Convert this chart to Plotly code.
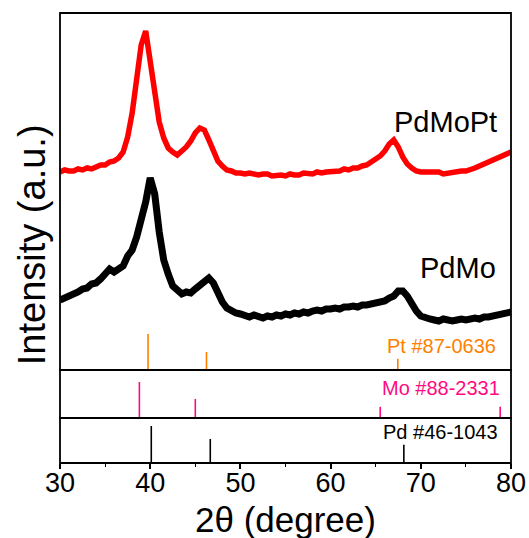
import plotly.graph_objects as go

# 2-theta grid of the measured patterns (degrees)
two_theta = [30 + 0.5 * i for i in range(101)]

# PdMoPt diffraction pattern (a.u.)
pdmopt = [
    198, 200, 199, 199, 201, 200, 202, 201, 203, 205,
    205, 208, 209, 212, 218, 233, 257, 288, 325, 339,
    310, 275, 248, 232, 222, 218, 215, 219, 223, 229,
    237, 242, 240, 230, 218, 209, 204, 200, 199, 197,
    197, 196, 197, 196, 195, 196, 196, 194, 195, 195,
    194, 196, 195, 195, 197, 196, 196, 198, 197, 198,
    198, 199, 199, 201, 200, 202, 202, 204, 205, 208,
    211, 214, 219, 226, 230, 223, 213, 206, 202, 199,
    198, 198, 197, 197, 198, 196, 197, 198, 198, 199,
    199, 200, 202, 204, 206, 207, 209, 211, 213, 215,
    218,
]

# PdMo diffraction pattern (a.u.)
pdmo = [
    70, 72, 74, 75, 78, 81, 82, 86, 87, 91,
    96, 101, 98, 101, 104, 114, 120, 133, 148, 168,
    192, 176, 138, 110, 96, 84, 80, 76, 78, 77,
    81, 84, 87, 92, 87, 77, 68, 62, 59, 57,
    56, 55, 53, 55, 53, 52, 54, 53, 55, 54,
    56, 55, 57, 56, 58, 57, 59, 60, 59, 61,
    61, 62, 61, 63, 63, 64, 63, 65, 65, 66,
    67, 69, 69, 72, 74, 79, 79, 74, 66, 59,
    54, 52, 51, 50, 49, 51, 50, 49, 50, 51,
    50, 51, 52, 51, 53, 53, 54, 56, 56, 57,
    58,
]

# Reference cards: peak positions (degrees) and relative intensities (%)
pt_pos = [39.76, 46.24, 67.45]
pt_int = [100, 50, 31]
mo_pos = [38.8, 45.0, 65.5, 78.8]
mo_int = [100, 53, 31, 31]
pd_pos = [40.12, 46.66, 68.12]
pd_int = [100, 65, 49]

x_ticks = [30, 40, 50, 60, 70, 80]

FONT = "Liberation Sans, Arial, sans-serif"
ORANGE = "#FF7F00"
PINK = "#FF0A80"


def sticks(pos, inten):
    xs, ys = [], []
    for p, h in zip(pos, inten):
        xs += [p, p, None]
        ys += [0, h, None]
    return xs, ys


fig = go.Figure()

fig.add_trace(go.Scatter(x=two_theta, y=pdmopt, mode="lines",
                         line=dict(color="#FF0000", width=5.5),
                         yaxis="y", showlegend=False))
fig.add_trace(go.Scatter(x=two_theta, y=pdmo, mode="lines",
                         line=dict(color="#000000", width=7),
                         yaxis="y", showlegend=False))

sx, sy = sticks(pt_pos, pt_int)
fig.add_trace(go.Scatter(x=sx, y=sy, mode="lines",
                         line=dict(color=ORANGE, width=1.6),
                         yaxis="y4", showlegend=False))
sx, sy = sticks(mo_pos, mo_int)
fig.add_trace(go.Scatter(x=sx, y=sy, mode="lines",
                         line=dict(color=PINK, width=1.6),
                         yaxis="y2", showlegend=False))
sx, sy = sticks(pd_pos, pd_int)
fig.add_trace(go.Scatter(x=sx, y=sy, mode="lines",
                         line=dict(color="#000000", width=1.6),
                         yaxis="y3", showlegend=False))

# panel domains (fractions of the plotting area height)
d_pd = [0.0, 0.10]
d_mo = [0.10, 0.2067]
d_main = [0.2067, 1.0]

hidden = dict(showticklabels=False, showgrid=False, zeroline=False,
              ticks="", showline=False, fixedrange=True, automargin=False)

fig.update_layout(
    width=529, height=538,
    margin=dict(l=60, r=18, t=13, b=75),
    paper_bgcolor="white", plot_bgcolor="white",
    font=dict(family=FONT, color="black"),
    xaxis=dict(range=[30, 80], anchor="y3", tickvals=x_ticks,
               ticktext=[str(v) for v in x_ticks],
               ticks="outside", ticklen=5, tickwidth=1.5, tickcolor="black",
               minor=dict(dtick=5, tick0=30, ticks="outside", ticklen=3,
                          tickwidth=1.2, tickcolor="black"),
               tickfont=dict(size=27, family=FONT, color="black"),
               ticklabelstandoff=-9, automargin=False,
               showgrid=False, zeroline=False, showline=False),
    yaxis=dict(domain=d_main, range=[0, 357], anchor="x", **hidden),
    yaxis4=dict(domain=d_main, range=[0, 991.7], overlaying="y",
                anchor="x", **hidden),
    yaxis2=dict(domain=d_mo, range=[0, 133.3], anchor="x", **hidden),
    yaxis3=dict(domain=d_pd, range=[0, 121.6], anchor="x", **hidden),
)

# panel frames
for d in (d_main, d_mo, d_pd):
    fig.add_shape(type="rect", xref="paper", yref="paper",
                  x0=0, x1=1, y0=d[0], y1=d[1],
                  line=dict(color="black", width=1.8), layer="above")

ann = [
    dict(text="PdMoPt", x=78.7, y=0.695, xref="x", yref="y domain",
         xanchor="right", yanchor="middle", font=dict(size=29, color="black")),
    dict(text="PdMo", x=78.6, y=0.287, xref="x", yref="y domain",
         xanchor="right", yanchor="middle", font=dict(size=29, color="black")),
    dict(text="Pt #87-0636", x=78.6, y=0.068, xref="x", yref="y domain",
         xanchor="right", yanchor="middle", font=dict(size=20, color=ORANGE)),
    dict(text="Mo #88-2331", x=79.0, y=0.62, xref="x", yref="y2 domain",
         xanchor="right", yanchor="middle", font=dict(size=20, color=PINK)),
    dict(text="Pd #46-1043", x=78.8, y=0.70, xref="x", yref="y3 domain",
         xanchor="right", yanchor="middle", font=dict(size=20, color="black")),
    # axis titles, offset in pixels from the plotting area
    dict(text="2θ (degree)", x=0.5, y=0, xref="paper", yref="paper",
         yshift=-56, xanchor="center", yanchor="middle",
         font=dict(size=35, color="black")),
    dict(text="Intensity (a.u.)", x=0, y=0.484, xref="paper", yref="paper",
         xshift=-28, textangle=-90, xanchor="center", yanchor="middle",
         font=dict(size=38, color="black")),
]
for a in ann:
    a["showarrow"] = False
    a["font"]["family"] = FONT
fig.update_layout(annotations=ann)

fig.write_html("out.html")
